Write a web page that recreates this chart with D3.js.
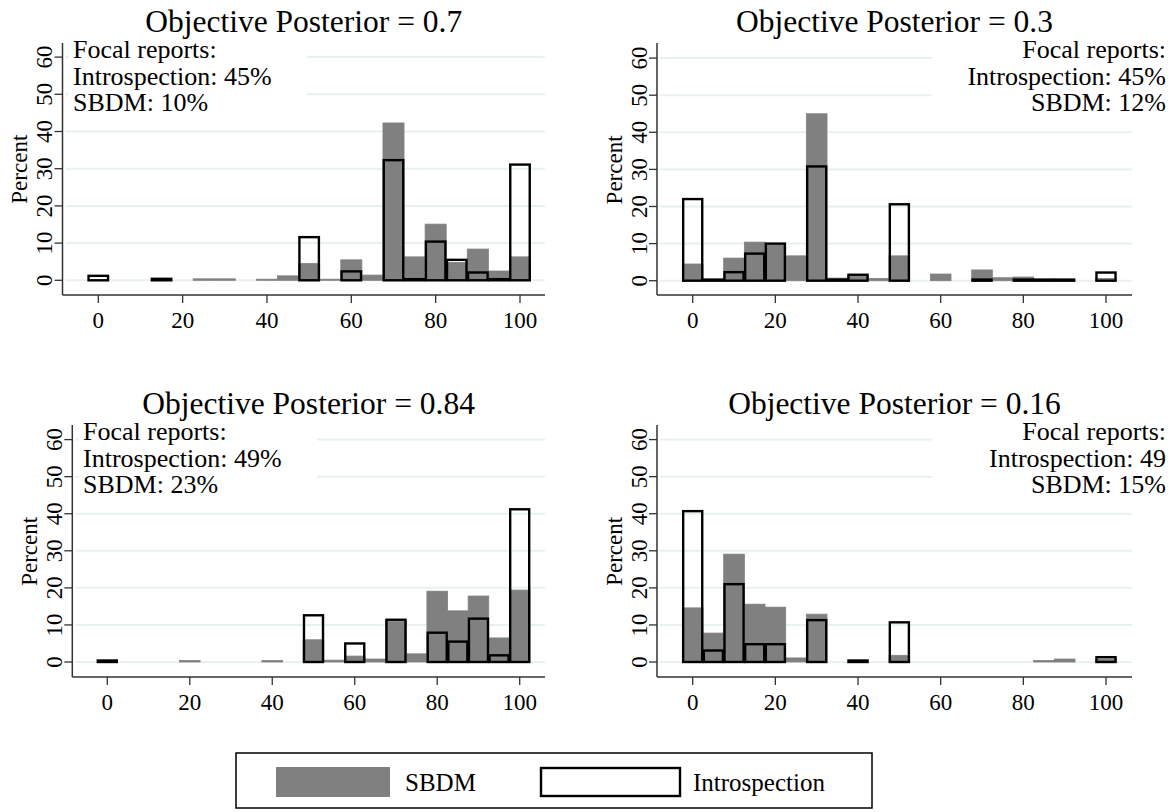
<!DOCTYPE html>
<html>
<head>
<meta charset="utf-8">
<script src="https://cdn.jsdelivr.net/npm/d3@7"></script>
<style>
  html, body { margin: 0; padding: 0; background: #fff; }
  svg { display: block; }
  svg text { font-family: "Liberation Serif", "Times New Roman", Times, serif; }
</style>
</head>
<body>
<svg id="chart" width="1176" height="812"></svg>
<script>
// ---------------- DATA ----------------
const bins = [0, 5, 10, 15, 20, 25, 30, 35, 40, 45, 50, 55, 60, 65, 70, 75, 80, 85, 90, 95, 100];
const xTicks = [0, 20, 40, 60, 80, 100];
const yTicks = [0, 10, 20, 30, 40, 50, 60];

const titles = ["Objective Posterior = 0.7", "Objective Posterior = 0.3",
                "Objective Posterior = 0.84", "Objective Posterior = 0.16"];

const notes1 = ["Focal reports:", "Introspection: 45%", "SBDM: 10%"];
const notes2 = ["Focal reports:", "Introspection: 45%", "SBDM: 12%"];
const notes3 = ["Focal reports:", "Introspection: 49%", "SBDM: 23%"];
const notes4 = ["Focal reports:", "Introspection: 49", "SBDM: 15%"];

// SBDM (grey) and Introspection (outline) percentages per bin
const sbdm1  = [0, 0, 0, 0, 0, 0.4, 0.4, 0, 0.3, 1.2, 4.5, 0.3, 5.5, 1.4, 42.3, 6.3, 15.1, 4.8, 8.4, 2.5, 6.3];
const intro1 = [1.2, 0, 0, 0.4, 0, 0, 0, 0, 0, 0, 11.6, 0, 2.4, 0, 32.3, 0.3, 10.4, 5.5, 2.1, 0.3, 31.1];

const sbdm2  = [4.5, 0, 6.1, 10.4, 9.8, 6.7, 45.0, 0.7, 1.2, 0.6, 6.7, 0, 1.8, 0, 2.9, 0.8, 1.0, 0, 0, 0, 0.6];
const intro2 = [22.0, 0.3, 2.3, 7.3, 10.0, 0, 30.8, 0.3, 1.6, 0, 20.6, 0, 0, 0, 0.3, 0, 0.3, 0.3, 0.3, 0, 2.2];

const sbdm3  = [0, 0, 0, 0, 0.4, 0, 0, 0, 0.4, 0, 6.0, 0.5, 1.6, 0.8, 10.9, 2.2, 19.1, 13.8, 17.8, 6.5, 19.4];
const intro3 = [0.4, 0, 0, 0, 0, 0, 0, 0, 0, 0, 12.6, 0, 5.0, 0, 11.4, 0, 7.9, 5.5, 11.7, 1.8, 41.2];

const sbdm4  = [14.6, 7.8, 29.1, 15.6, 14.8, 1.1, 12.9, 0, 0, 0, 1.8, 0, 0, 0, 0, 0, 0, 0.4, 0.8, 0, 0.8];
const intro4 = [40.7, 3.1, 21.0, 4.8, 4.8, 0, 11.3, 0, 0.4, 0, 10.7, 0, 0, 0, 0, 0, 0, 0, 0, 0, 1.3];

const legendLabels = ["SBDM", "Introspection"];

// ---------------- LAYOUT ----------------
const FONT = "'Liberation Serif', 'Times New Roman', Times, serif";
const panels = [
  { title: titles[0], notes: notes1, sbdm: sbdm1, intro: intro1, align: "left",
    axisX: 62.5, right: 545, x0: 98.3, x100: 520, yBase: 280.3, yTop: 57.1, axisTop: 43, axisBottom: 295,
    noteX: 73, noteY: 58, box: [69, 44, 238, 75] },
  { title: titles[1], notes: notes2, sbdm: sbdm2, intro: intro2, align: "right",
    axisX: 657, right: 1132, x0: 692.7, x100: 1106, yBase: 280.7, yTop: 58.1, axisTop: 43, axisBottom: 295,
    noteX: 1166, noteY: 58, box: [932, 44, 240, 75] },
  { title: titles[2], notes: notes3, sbdm: sbdm3, intro: intro3, align: "left",
    axisX: 72.3, right: 545, x0: 107.3, x100: 519.7, yBase: 662, yTop: 439.6, axisTop: 425, axisBottom: 677,
    noteX: 83, noteY: 440, box: [79, 426, 238, 75] },
  { title: titles[3], notes: notes4, sbdm: sbdm4, intro: intro4, align: "right",
    axisX: 657, right: 1132, x0: 692.7, x100: 1106, yBase: 662, yTop: 439.6, axisTop: 425, axisBottom: 677,
    noteX: 1166, noteY: 440, box: [932, 426, 240, 75] }
];

const svg = d3.select("#chart");
const GREY = "#808080";
const GRID = "#e9f0f2";
const AXIS = "#333";

panels.forEach(p => {
  const g = svg.append("g");
  const x = d3.scaleLinear().domain([0, 100]).range([p.x0, p.x100]);
  const y = d3.scaleLinear().domain([0, 60]).range([p.yBase, p.yTop]);
  const half = 2.5;

  // gridlines
  g.append("g").selectAll("line").data(yTicks).join("line")
    .attr("x1", p.axisX + 3).attr("x2", p.right)
    .attr("y1", d => y(d)).attr("y2", d => y(d))
    .attr("stroke", GRID).attr("stroke-width", 2);

  // SBDM bars
  g.append("g").selectAll("rect").data(bins.map((b, i) => ({ b, v: p.sbdm[i] })).filter(d => d.v > 0))
    .join("rect")
    .attr("x", d => x(d.b - half)).attr("width", d => x(d.b + half) - x(d.b - half))
    .attr("y", d => y(d.v)).attr("height", d => y(0) - y(d.v))
    .attr("fill", GREY).attr("stroke", GREY).attr("stroke-width", 0.8);

  // Introspection outlines
  g.append("g").selectAll("rect").data(bins.map((b, i) => ({ b, v: p.intro[i] })).filter(d => d.v > 0))
    .join("rect")
    .attr("x", d => x(d.b - half) + 0.8).attr("width", d => x(d.b + half) - x(d.b - half) - 1.6)
    .attr("y", d => y(d.v)).attr("height", d => y(0) - y(d.v))
    .attr("fill", "none").attr("stroke", "#000").attr("stroke-width", 2.4);

  // Y axis
  g.append("line").attr("x1", p.axisX).attr("x2", p.axisX)
    .attr("y1", p.axisTop).attr("y2", p.axisBottom)
    .attr("stroke", AXIS).attr("stroke-width", 1.5);
  g.append("g").selectAll("line").data(yTicks).join("line")
    .attr("x1", p.axisX - 8).attr("x2", p.axisX)
    .attr("y1", d => y(d)).attr("y2", d => y(d))
    .attr("stroke", AXIS).attr("stroke-width", 1.3);
  g.append("g").selectAll("text").data(yTicks).join("text")
    .attr("transform", d => `translate(${p.axisX - 10.5},${y(d)}) rotate(-90)`)
    .attr("text-anchor", "middle").attr("font-family", FONT).attr("font-size", 23).attr("fill", "#000")
    .text(d => d);
  g.append("text")
    .attr("transform", `translate(${p.axisX - 35.5},${(y(0) + y(60)) / 2 + 0.5}) rotate(-90)`)
    .attr("text-anchor", "middle").attr("font-family", FONT).attr("font-size", 23).attr("fill", "#000")
    .text("Percent");

  // X axis
  g.append("line").attr("x1", p.axisX).attr("x2", p.right)
    .attr("y1", p.axisBottom).attr("y2", p.axisBottom)
    .attr("stroke", AXIS).attr("stroke-width", 1.5);
  g.append("g").selectAll("line").data(xTicks).join("line")
    .attr("x1", d => x(d)).attr("x2", d => x(d))
    .attr("y1", p.axisBottom).attr("y2", p.axisBottom + 8)
    .attr("stroke", AXIS).attr("stroke-width", 1.3);
  g.append("g").selectAll("text").data(xTicks).join("text")
    .attr("x", d => x(d)).attr("y", p.axisBottom + 33)
    .attr("text-anchor", "middle").attr("font-family", FONT).attr("font-size", 23).attr("fill", "#000")
    .text(d => d);

  // note box
  g.append("rect").attr("x", p.box[0]).attr("y", p.box[1])
    .attr("width", p.box[2]).attr("height", p.box[3]).attr("fill", "#fff");
  g.append("g").selectAll("text").data(p.notes).join("text")
    .attr("x", p.noteX).attr("y", (d, i) => p.noteY + i * 26.5)
    .attr("text-anchor", p.align === "left" ? "start" : "end")
    .attr("font-family", FONT).attr("font-size", 26).attr("fill", "#000")
    .text(d => d);

  // title
  g.append("text").attr("x", (p.axisX + p.right) / 2).attr("y", p.axisTop - 11)
    .attr("text-anchor", "middle").attr("font-family", FONT).attr("font-size", 31.5).attr("fill", "#000")
    .text(p.title);
});

// ---------------- LEGEND ----------------
const lg = svg.append("g");
lg.append("rect").attr("x", 236).attr("y", 753).attr("width", 636).attr("height", 55)
  .attr("fill", "#fff").attr("stroke", "#000").attr("stroke-width", 1.5);
lg.append("rect").attr("x", 276).attr("y", 767).attr("width", 114).attr("height", 30)
  .attr("fill", GREY);
lg.append("text").attr("x", 405).attr("y", 791).attr("font-family", FONT).attr("font-size", 25)
  .text(legendLabels[0]);
lg.append("rect").attr("x", 541).attr("y", 768).attr("width", 139).attr("height", 28)
  .attr("fill", "none").attr("stroke", "#000").attr("stroke-width", 2.4);
lg.append("text").attr("x", 693).attr("y", 791).attr("font-family", FONT).attr("font-size", 25)
  .text(legendLabels[1]);
</script>
</body>
</html>
